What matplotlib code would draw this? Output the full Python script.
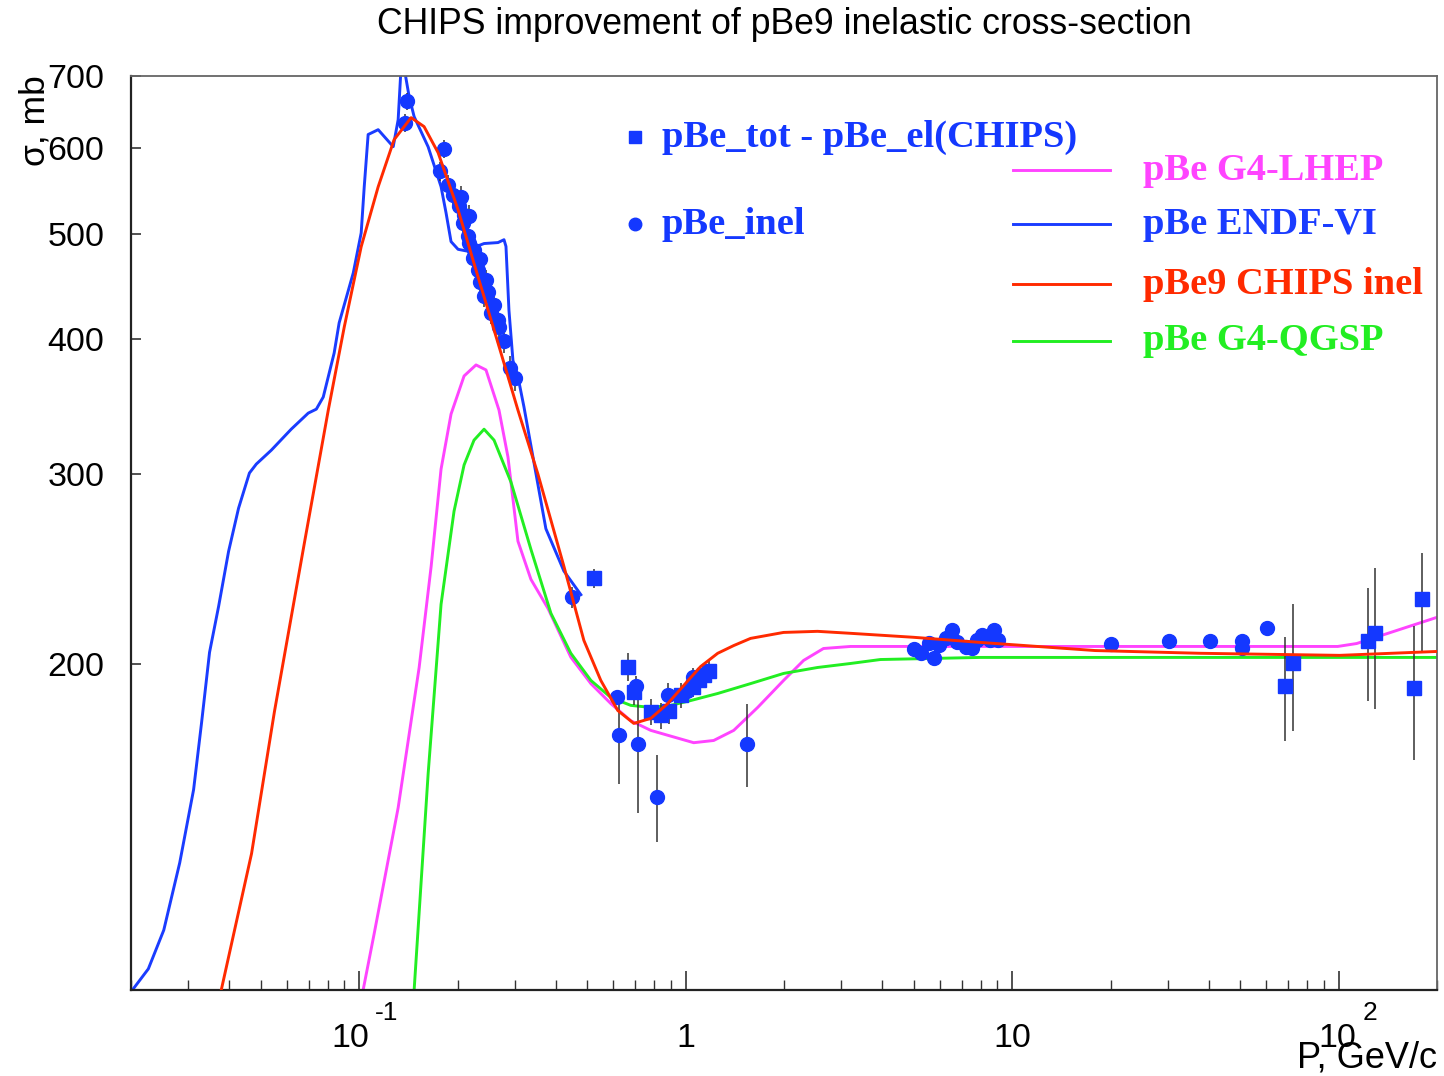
import matplotlib
matplotlib.use("Agg")
import matplotlib.pyplot as plt
import matplotlib.transforms as mtransforms
from matplotlib.ticker import FixedLocator, NullLocator, NullFormatter, LogLocator

plt.rcParams['font.family'] = ['Liberation Sans', 'DejaVu Sans']

# ---- curves (P in GeV/c, sigma in mb) ----
endf_p = [0.0202, 0.0226, 0.0252, 0.0282, 0.0311, 0.0329, 0.0348, 0.0371, 0.0398, 0.0427,
          0.0461, 0.0484, 0.0538, 0.0619, 0.0698, 0.0739, 0.0776, 0.0838, 0.0868, 0.0959,
          0.1014, 0.1036, 0.1065, 0.1143, 0.1271, 0.1316, 0.1344, 0.1373, 0.1422, 0.1473,
          0.1626, 0.1781, 0.1845, 0.1911, 0.2008, 0.2154, 0.2247, 0.2412, 0.2661, 0.2776,
          0.2815, 0.2875, 0.2957, 0.3063, 0.3196, 0.3730, 0.4235, 0.4774]
endf_s = [100.0, 104.6, 113.6, 131.1, 153.2, 176.7, 205.2, 226.3, 254.4, 278.9,
          300.6, 306.4, 315.6, 330.0, 341.5, 344.4, 353.4, 388.1, 413.8, 460.3,
          501.2, 552.9, 618.0, 624.4, 602.2, 637.8, 715.0, 712.0, 670.0, 642.0,
          602.0, 553.0, 523.0, 492.0, 484.0, 482.0, 486.0, 490.0, 491.0, 494.0,
          487.0, 425.0, 382.0, 369.0, 346.0, 267.0, 244.0, 232.0]

chips_p = [0.0378, 0.0468, 0.0550, 0.0679, 0.0804, 0.0900, 0.1014, 0.1143, 0.1279, 0.1442,
           0.1580, 0.1744, 0.2008, 0.2312, 0.2661, 0.3063, 0.3527, 0.4235, 0.4876, 0.5495,
           0.6195, 0.6934, 0.7816, 0.8810, 1.036, 1.111, 1.253, 1.403, 1.580, 1.994,
           2.533, 3.196, 4.980, 7.982, 17.94, 37.58, 100.7, 200.0]
chips_s = [100.0, 133.7, 180.9, 258.8, 343.7, 410.3, 486.7, 552.9, 611.3, 640.6,
           628.5, 594.6, 526.5, 456.4, 396.5, 343.7, 299.9, 246.5, 210.5, 193.3,
           181.3, 176.4, 178.3, 184.0, 194.5, 199.1, 204.8, 208.2, 211.4, 214.1,
           214.6, 213.7, 211.9, 209.6, 206.0, 204.8, 203.9, 205.6]

lhep_p = [0.1028, 0.1111, 0.1316, 0.1526, 0.1661, 0.1781, 0.1911, 0.2095, 0.2279, 0.2445,
          0.2680, 0.2855, 0.3063, 0.3357, 0.3784, 0.4235, 0.4448, 0.5123, 0.5897, 0.6789,
          0.7816, 0.8810, 1.058, 1.218, 1.403, 1.661, 1.994, 2.296, 2.642, 3.196,
          3.948, 7.982, 99.3, 113.5, 200.0]
lhep_s = [100.0, 112.7, 147.4, 198.7, 246.5, 303.1, 340.8, 369.6, 378.4, 374.4,
          343.7, 311.0, 260.0, 239.7, 225.4, 209.6, 203.1, 192.0, 184.0, 177.4,
          173.8, 172.0, 169.3, 170.1, 173.8, 182.5, 193.3, 201.7, 206.9, 207.8,
          207.8, 207.8, 207.8, 209.1, 221.1]

qgsp_p = [0.1473, 0.1626, 0.1781, 0.1952, 0.2095, 0.2247, 0.2412, 0.2588, 0.2917, 0.3357,
          0.3865, 0.4448, 0.5123, 0.5897, 0.6789, 0.7816, 0.8995, 1.036, 1.253, 1.580,
          1.994, 2.533, 3.196, 3.948, 7.982, 200.0]
qgsp_s = [100.0, 158.5, 227.3, 277.2, 305.8, 322.4, 330.0, 322.4, 294.8, 255.5,
          223.0, 204.8, 193.3, 186.4, 183.3, 182.5, 183.3, 185.2, 188.0, 192.0,
          196.2, 198.7, 200.4, 202.1, 203.0, 203.0]

# ---- data: pBe_inel (circles) ----
inel_p = [0.1385, 0.1402, 0.1772, 0.1816, 0.1875, 0.1934, 0.2026, 0.2050, 0.2084, 0.2099,
          0.2150, 0.2175, 0.2175, 0.2227, 0.2253, 0.2307, 0.2350, 0.2350, 0.2416, 0.2445,
          0.2474, 0.2533, 0.2582, 0.2655, 0.2685, 0.2781, 0.2902, 0.3006,
          0.4479, 0.6139, 0.6226, 0.7034, 0.7166, 0.8192, 0.8829, 1.012, 1.056, 1.544,
          5.015, 5.269, 5.576, 5.774, 5.982, 6.283, 6.555, 6.789, 7.234, 7.544,
          7.816, 8.094, 8.564, 8.810, 9.061, 20.08, 30.21, 40.32, 50.50, 50.50, 60.23]
inel_s = [633.4, 663.3, 571.4, 599.3, 555.3, 543.6, 530.2, 541.6, 511.8, 520.9,
          497.4, 519.8, 490.4, 475.0, 483.6, 463.4, 474.0, 451.0, 437.8, 453.6,
          442.4, 422.5, 430.1, 416.5, 410.5, 398.3, 375.6, 367.7,
          230.7, 186.5, 172.0, 191.2, 168.9, 150.9, 187.2, 189.2, 194.6, 168.9,
          206.8, 204.9, 209.3, 202.9, 208.3, 211.8, 215.4, 209.8, 207.6, 207.1,
          210.9, 213.1, 210.5, 215.0, 210.5, 208.9, 210.1, 210.1, 210.1, 206.9, 216.0]
inel_err = [12, 12, 12, 12, 12, 12, 12, 12, 12, 12,
            10, 12, 10, 10, 10, 10, 10, 10, 10, 10,
            10, 10, 10, 10, 10, 10, 10, 10,
            5, 3, 17, 4, 23, 14, 5, 4, 4, 15,
            1, 1, 1, 1, 1, 1, 1, 1, 1, 1,
            1, 1, 1, 1, 1, 1, 1, 1, 1, 1, 1]

# ---- data: pBe_tot - pBe_el(CHIPS) (squares) ----
diff_p = [0.5232, 0.6664, 0.6921, 0.7816, 0.8384, 0.8890, 0.9654, 1.056, 1.10, 1.138,
          1.178, 68.39, 72.33, 122.7, 128.9, 169.6, 179.4]
diff_s = [240.3, 198.9, 188.5, 180.7, 179.4, 181.1, 187.2, 190.6, 193.5, 195.4,
          197.4, 190.9, 200.4, 210.1, 213.7, 190.1, 229.7]
diff_err = [5, 6, 5, 5, 5, 5, 5, 4, 5, 5,
            5, 21, 27, 25, 32, 27, 24]

BLUE = '#1438ff'
LINE_BLUE = '#1a3cff'
MAGENTA = '#ff44ff'
RED = '#ff2a00'
GREEN = '#22ee22'
LW = 2.1

fig = plt.figure(figsize=(14.44, 10.76), dpi=100)
ax = fig.add_axes([131 / 1444, 1 - 990 / 1076, 1306 / 1444, 914 / 1076])
ax.set_xscale('log')
ax.set_yscale('log')

ax.plot(endf_p, endf_s, color=LINE_BLUE, lw=LW, zorder=2)
ax.plot(lhep_p, lhep_s, color=MAGENTA, lw=LW, zorder=2)
ax.plot(qgsp_p, qgsp_s, color=GREEN, lw=LW, zorder=2)

ax.errorbar(inel_p, inel_s, yerr=inel_err, fmt='none', ecolor='#333333', elinewidth=1.1, zorder=3)
ax.errorbar(diff_p, diff_s, yerr=diff_err, fmt='none', ecolor='#333333', elinewidth=1.1, zorder=3)
ax.plot(inel_p, inel_s, 'o', color=BLUE, ms=10, mec=BLUE, zorder=4)
ax.plot(diff_p, diff_s, 's', color=BLUE, ms=9.5, mec=BLUE, zorder=4)

ax.plot(chips_p, chips_s, color=RED, lw=LW, zorder=5)

ax.set_xlim(0.02, 200)
ax.set_ylim(100, 700)

# axes styling
for side in ['left', 'bottom']:
    ax.spines[side].set_linewidth(1.6)
    ax.spines[side].set_color('#222222')
for side in ['top', 'right']:
    ax.spines[side].set_linewidth(1.3)
    ax.spines[side].set_color('#666666')

ax.yaxis.set_major_locator(FixedLocator([200, 300, 400, 500, 600, 700]))
ax.yaxis.set_minor_locator(NullLocator())
ax.set_yticklabels(['200', '300', '400', '500', '600', '700'])
ax.yaxis.set_minor_formatter(NullFormatter())
ax.tick_params(axis='y', direction='in', length=7, width=1.2, color='#333333',
               labelsize=24.5, pad=19)

ax.xaxis.set_major_locator(FixedLocator([0.1, 1, 10, 100]))
ax.xaxis.set_minor_locator(LogLocator(base=10, subs=range(2, 10)))
ax.xaxis.set_major_formatter(NullFormatter())
ax.xaxis.set_minor_formatter(NullFormatter())
ax.tick_params(axis='x', which='major', direction='in', length=13.5, width=1.2, color='#333333')
ax.tick_params(axis='x', which='minor', direction='in', length=7, width=1.0, color='#333333')

# x tick labels, ROOT style
blend = mtransforms.blended_transform_factory(ax.transData, ax.transAxes)


def shifted(dx_px):
    return blend + mtransforms.ScaledTranslation(dx_px / 100, 0, fig.dpi_scale_trans)


base_y = (990 - 1047) / 914
sup_y = (990 - 1020) / 914
ax.text(0.1, base_y, '10', transform=shifted(10), ha='right', va='baseline', fontsize=24.5)
ax.text(0.1, sup_y, '-1', transform=shifted(16), ha='left', va='baseline', fontsize=19)
ax.text(1, base_y, '1', transform=shifted(0), ha='center', va='baseline', fontsize=24.5)
ax.text(10, base_y, '10', transform=shifted(0), ha='center', va='baseline', fontsize=24.5)
ax.text(100, base_y, '10', transform=shifted(18), ha='right', va='baseline', fontsize=24.5)
ax.text(100, sup_y, '2', transform=shifted(24), ha='left', va='baseline', fontsize=19)

# titles
fig.text(784 / 1444, 1 - 25 / 1076, 'CHIPS improvement of pBe9 inelastic cross-section',
         ha='center', va='center', fontsize=25.7)
fig.text(1437 / 1444, 1 - 1068 / 1076, 'P, GeV/c', ha='right', va='baseline', fontsize=26)
fig.text(35 / 1444, 1 - 75 / 1076, '\u03c3, mb', rotation=90, ha='center', va='top', fontsize=25.5)

# legend
serif = ['Liberation Serif', 'DejaVu Serif']


def ax_xy(px, py):
    return (px - 131) / 1306, (990 - py) / 914


fx, fy = ax_xy(635, 137)
ax.plot([fx], [fy], 's', color=BLUE, ms=8.5, transform=ax.transAxes, clip_on=False)
tx, _ = ax_xy(662, 0)
ax.text(tx, fy, 'pBe_tot - pBe_el(CHIPS)', transform=ax.transAxes, ha='left', va='center',
        fontsize=27.7, fontweight='bold', family=serif, color=BLUE)
fx, fy = ax_xy(635, 224)
ax.plot([fx], [fy], 'o', color=BLUE, ms=9, transform=ax.transAxes, clip_on=False)
ax.text(tx, fy, 'pBe_inel', transform=ax.transAxes, ha='left', va='center',
        fontsize=27.7, fontweight='bold', family=serif, color=BLUE)

legend_rows = [('pBe G4-LHEP', MAGENTA, 170),
               ('pBe ENDF-VI', LINE_BLUE, 224),
               ('pBe9 CHIPS inel', RED, 284),
               ('pBe G4-QGSP', GREEN, 341)]
x0, _ = ax_xy(1013, 0)
x1, _ = ax_xy(1110, 0)
xt, _ = ax_xy(1143, 0)
for label, col, py in legend_rows:
    _, fy = ax_xy(0, py)
    ax.plot([x0, x1], [fy, fy], color=col, lw=LW, transform=ax.transAxes)
    ax.text(xt, fy, label, transform=ax.transAxes, ha='left', va='center',
            fontsize=27.7, fontweight='bold', family=serif, color=col)

fig.savefig('out.png', dpi=100)
